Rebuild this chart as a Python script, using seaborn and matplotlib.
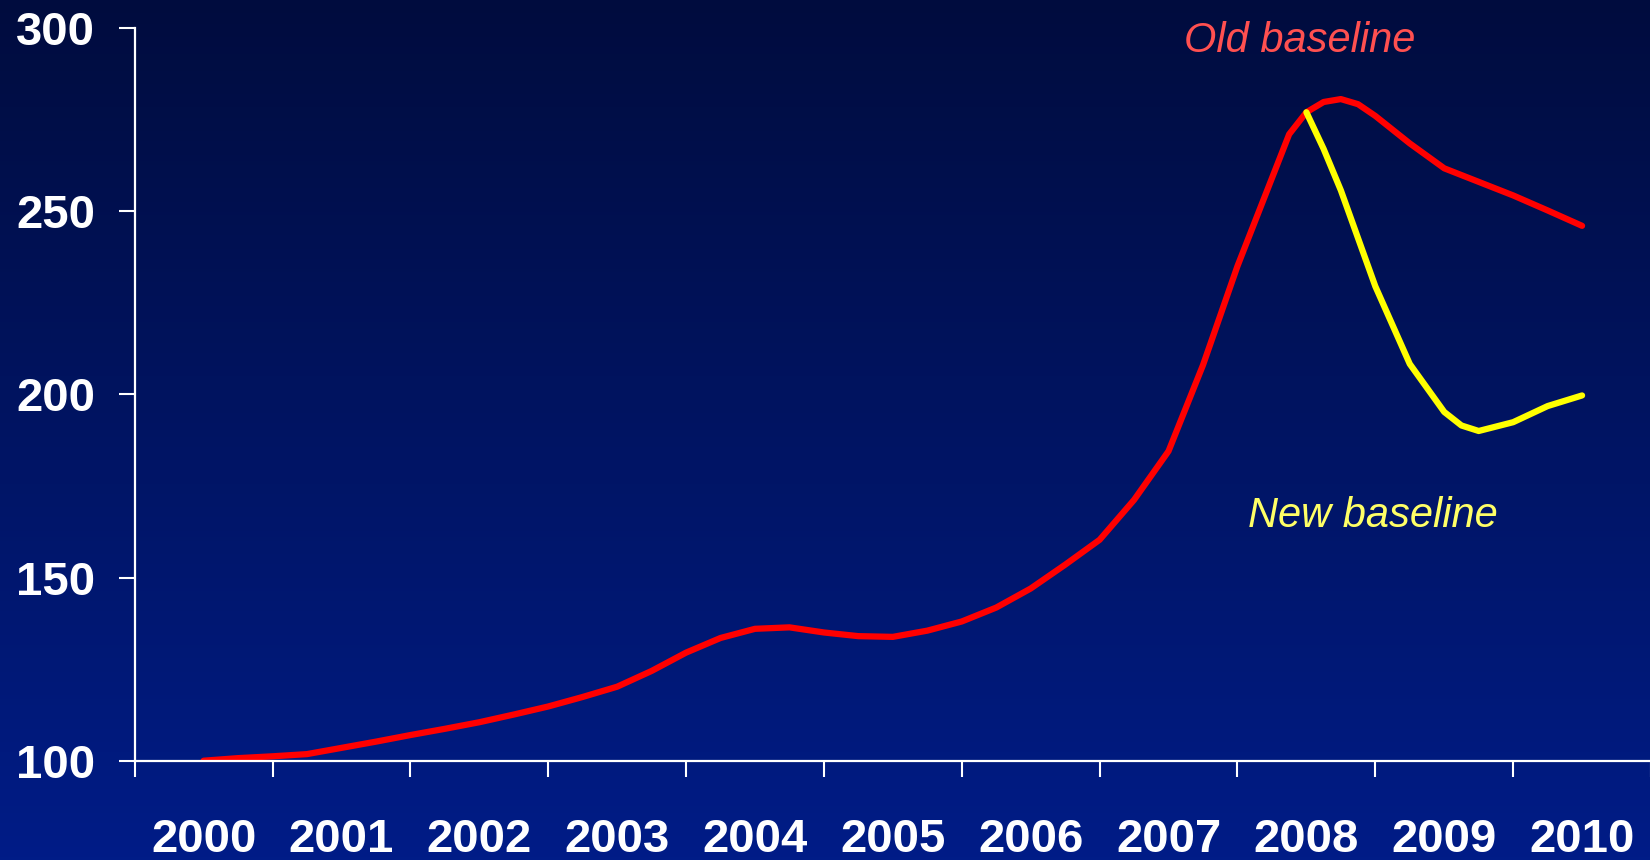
import numpy as np
import pandas as pd
import matplotlib
matplotlib.use("Agg")
import matplotlib.pyplot as plt
import seaborn as sns

# ---- data (quarterly index, 2000 = 100; a few extra points near the peak) ----
old_t = [2000.00, 2000.25, 2000.50, 2000.75, 2001.00, 2001.25, 2001.50, 2001.75,
         2002.00, 2002.25, 2002.50, 2002.75, 2003.00, 2003.25, 2003.50, 2003.75,
         2004.00, 2004.25, 2004.50, 2004.75, 2005.00, 2005.25, 2005.50, 2005.75,
         2006.00, 2006.25, 2006.50, 2006.75, 2007.00, 2007.25, 2007.50, 2007.75,
         2007.875, 2008.00, 2008.125, 2008.25, 2008.375, 2008.50, 2008.75,
         2009.00, 2009.25, 2009.50, 2009.75, 2010.00]
old_baseline = [100.0, 100.7, 101.2, 101.8, 103.5, 105.2, 107.0, 108.7,
                110.5, 112.6, 114.8, 117.4, 120.2, 124.5, 129.5, 133.5,
                136.0, 136.4, 135.0, 134.0, 133.8, 135.5, 138.0, 141.8,
                147.0, 153.5, 160.3, 171.2, 184.5, 208.0, 235.0, 259.0,
                271.0, 277.0, 279.8, 280.6, 279.2, 276.0, 268.5,
                261.7, 258.0, 254.3, 250.2, 246.0]
new_t = [2008.00, 2008.125, 2008.25, 2008.50, 2008.75, 2009.00, 2009.125,
         2009.25, 2009.50, 2009.75, 2010.00]
new_baseline = [277.0, 267.0, 255.7, 229.5, 208.3, 195.2, 191.5,
                190.0, 192.4, 196.8, 199.7]

year_labels = ["2000", "2001", "2002", "2003", "2004", "2005",
               "2006", "2007", "2008", "2009", "2010"]
y_ticks = [100, 150, 200, 250, 300]

df = pd.concat([
    pd.DataFrame({"t": old_t, "value": old_baseline, "series": "Old baseline"}),
    pd.DataFrame({"t": new_t, "value": new_baseline, "series": "New baseline"}),
], ignore_index=True)

# ---- figure ----
W, H = 1650, 860
fig = plt.figure(figsize=(W / 100, H / 100), dpi=100)

# gradient background
bg = fig.add_axes([0, 0, 1, 1], zorder=0)
top = np.array([0, 12, 62]) / 255.0
bot = np.array([0, 28, 135]) / 255.0
f = np.linspace(0, 1, 256)[:, None]
grad = top[None, :] * (1 - f) + bot[None, :] * f
bg.imshow(grad[:, None, :], aspect="auto", extent=[0, 1, 0, 1], origin="upper")
bg.set_axis_off()

x0, x1 = 134.7, 1651.0
y_top, y_bot = 28.0, 760.7
ax = fig.add_axes([x0 / W, (H - y_bot) / H, (x1 - x0) / W, (y_bot - y_top) / H], zorder=1)
ax.patch.set_alpha(0)

sns.lineplot(data=df, x="t", y="value", hue="series",
             palette={"Old baseline": "#FF0000", "New baseline": "#FFFF00"},
             linewidth=4.5, legend=False, ax=ax, sort=False)
for ln in ax.get_lines():
    ln.set_solid_capstyle("round")
    ln.set_solid_joinstyle("round")

ax.set_xlim(1999.5, 2010.5)
ax.set_ylim(100, 300)

for s in ["top", "right"]:
    ax.spines[s].set_visible(False)
for s in ["left", "bottom"]:
    ax.spines[s].set_color("white")
    ax.spines[s].set_linewidth(1.6)

ax.set_yticks(y_ticks)
ax.set_yticklabels([str(v) for v in y_ticks])
ax.set_xticks([1999.5 + i for i in range(12)])
ax.set_xticklabels([])
ax.set_xticks([2000 + i for i in range(len(year_labels))], minor=True)
ax.set_xticklabels(year_labels, minor=True)

for lab in ax.get_yticklabels() + ax.get_xticklabels(minor=True):
    lab.set_fontfamily(["Liberation Sans", "DejaVu Sans"])
    lab.set_fontweight("bold")
    lab.set_fontsize(34)
    lab.set_color("white")

ax.tick_params(axis="y", which="major", direction="out", length=11.5, width=1.5,
               color="white", pad=17)
ax.tick_params(axis="x", which="major", direction="out", length=11.5, width=1.5,
               color="white")
ax.tick_params(axis="x", which="minor", length=0, pad=41)
ax.set_xlabel("")
ax.set_ylabel("")

ax.text(2007.95, 296.4, "Old baseline", color="#FF5050", fontsize=30, style="italic",
        family=["Liberation Sans", "DejaVu Sans"], ha="center", va="center")
ax.text(2008.48, 166.8, "New baseline", color="#FFFF66", fontsize=30, style="italic",
        family=["Liberation Sans", "DejaVu Sans"], ha="center", va="center")

fig.savefig("out.png", dpi=100)
